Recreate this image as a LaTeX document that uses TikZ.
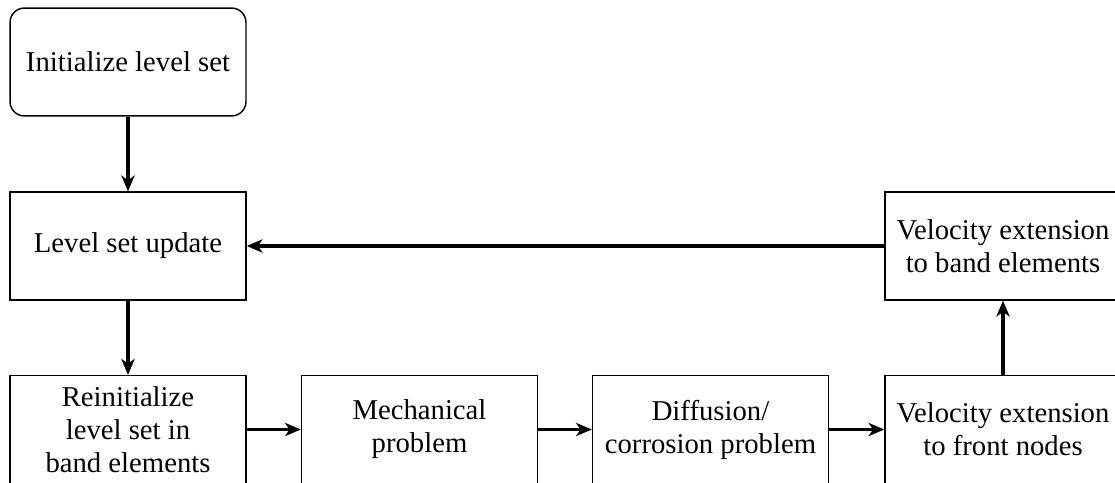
\documentclass[tikz,border=0pt]{standalone}
\usepackage{fontspec}
\setmainfont{Liberation Serif}
\usetikzlibrary{arrows.meta}

\begin{document}
\begin{tikzpicture}[x=0.3484pt, y=-0.3484pt,
    box/.style = {draw, line width=0.5pt, minimum width=82.2pt, minimum height=37.6pt, inner sep=0pt, align=center, font=\fontsize{10}{11.5}\selectfont},
    start/.style = {box, rounded corners=5pt},
    flow/.style = {-{Stealth[length=5.5pt, width=4.6pt, inset=1.6pt]}, line width=1.2pt}]

    \useasboundingbox (0,0) rectangle (1115,483);
    \clip (0,0) rectangle (1115,483);

    % Zagon in posodobitev
    \node[start] (init) at (128,62) {Initialize level set};
    \node[box] (update) at (128,246) {Level set update};

    % Spodnja vrsta korakov
    \node[box] (reinit) at (128,429.5) {Reinitialize\\level set in\\band elements};
    \node[box] (mech) at (419.5,429.5) {Mechanical\\problem};
    \node[box] (diff) at (710.5,429.5) {Diffusion/\\corrosion problem};
    \node[box] (front) at (1003,429.5) {Velocity extension\\to front nodes};
    \node[box] (band) at (1003,246) {Velocity extension\\to band elements};

    % Povezave
    \draw[flow] (init) -- (update);
    \draw[flow] (update) -- (reinit);
    \draw[flow] (reinit) -- (mech);
    \draw[flow] (mech) -- (diff);
    \draw[flow] (diff) -- (front);
    \draw[flow] (front) -- (band);
    \draw[flow] (band) -- (update);

\end{tikzpicture}
\end{document}
